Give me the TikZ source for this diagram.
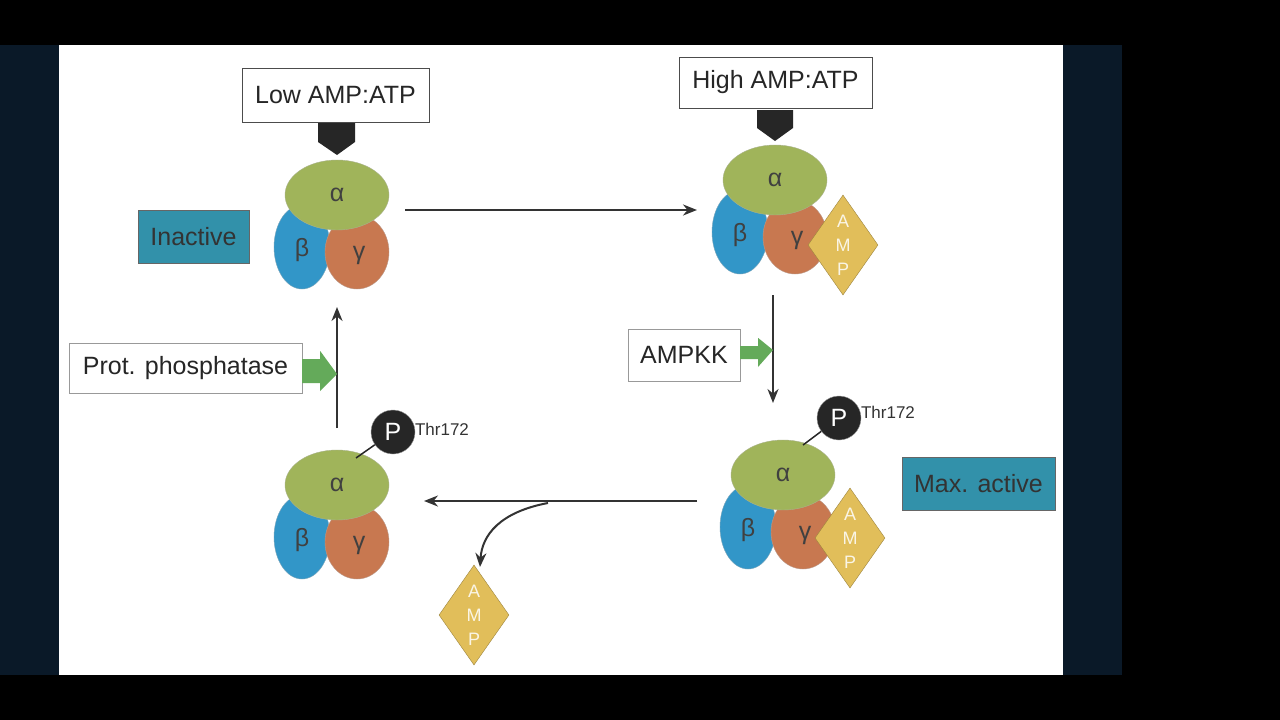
\documentclass[tikz,border=0pt]{standalone}
\usepackage{fontspec}
\setmainfont{Liberation Sans}
\usetikzlibrary{arrows.meta,shapes.geometric}
\definecolor{alph}{RGB}{160,180,90}
\definecolor{bet}{RGB}{50,150,200}
\definecolor{gam}{RGB}{200,120,80}
\definecolor{amp}{RGB}{225,190,90}
\definecolor{teal1}{RGB}{50,145,170}
\definecolor{grn}{RGB}{100,170,90}
\definecolor{navy}{RGB}{10,25,40}
\tikzset{
 lbl/.style={draw=black!70,fill=white,font=\fontsize{25}{28}\selectfont,inner sep=0pt,text=black!85},
 tbox/.style={draw=black!60,fill=teal1,font=\fontsize{25}{28}\selectfont,text=black!80,inner sep=0pt},
 conn/.style={-{Stealth[length=14pt,width=11pt]},line width=2pt,black!80},
 gk/.style={font=\fontsize{25}{28}\selectfont,text=black!75},
 ampd/.style={diamond,draw=amp!70!black,fill=amp,minimum width=70pt,minimum height=100pt,inner sep=0pt,aspect=0.7},
 pc/.style={circle,fill=black!85,draw=black!40,minimum size=44pt,inner sep=0pt,text=white,font=\fontsize{25}{28}\selectfont},
}
\newcommand{\cplx}[4]{%
 \fill[bet,draw=bet!70!black!60] (#2-35,#3+52) ellipse [x radius=28,y radius=42];
 \fill[gam,draw=gam!70!black!60] (#2+20,#3+57) ellipse [x radius=32,y radius=37];
 \node[ellipse,fill=alph,draw=alph!70!black!60,minimum width=104pt,minimum height=70pt,gk] (#1a) at (#2,#3) {α};
 \node[gk] (#1b) at (#2-35,#3+55) {β};
 \node[gk] (#1g) at (#2+22,#3+60) {γ};
}
\newcommand{\ampdiamond}[3]{%
 \node[ampd] (#1) at (#2,#3) {};
 \node[text=white!85!amp,font=\fontsize{18}{20}\selectfont,align=center] at (#2,#3) {A\\[4pt]M\\[4pt]P};
}
\begin{document}
\begin{tikzpicture}[x=1pt,y=-1pt]
\fill[black] (0,0) rectangle (1280,720);
\fill[navy] (0,45) rectangle (1122,675);
\fill[white] (59,45) rectangle (1063,675);
\useasboundingbox (0,0) rectangle (1280,720);
\fill[black!85] (318,123) -- (355,123) -- (355,142) -- (337,155) -- (318,142) -- cycle;
\cplx{tl}{337}{195}{}
\fill[black!85] (757,110) -- (793,110) -- (793,128) -- (775,141) -- (757,128) -- cycle;
\cplx{tr}{775}{180}{}
\ampdiamond{trA}{843}{245}
\cplx{br}{783}{475}{}
\ampdiamond{brA}{850}{538}
\node[pc] (brP) at (839,418) {P};
\draw[line width=1.5pt,black!85] (803,445) -- (brP);
\node[font=\fontsize{17}{19}\selectfont,text=black!80] (brT) at (888,412) {Thr172};
\cplx{bl}{337}{485}{}
\node[pc] (blP) at (393,432) {P};
\draw[line width=1.5pt,black!85] (356,458) -- (blP);
\node[font=\fontsize{17}{19}\selectfont,text=black!80] (blT) at (442,429) {Thr172};
\ampdiamond{fA}{474}{615}
\node[lbl,minimum width=187pt,minimum height=54pt] (low) at (335.5,95) {Low AMP:ATP};
\node[lbl,minimum width=193pt,minimum height=51pt] (high) at (775.5,82.5) {High AMP:ATP};
\node[tbox,minimum width=111pt,minimum height=53pt] (inact) at (193.5,236.5) {Inactive};
\node[tbox,minimum width=153pt,minimum height=53pt] (maxa) at (978.5,483.5) {Max. active};
\node[lbl,draw=black!40,minimum width=233pt,minimum height=50pt] (prot) at (185.5,368) {Prot. phosphatase};
\node[lbl,draw=black!40,minimum width=112pt,minimum height=52pt] (ampkk) at (684,355) {AMPKK};
\coordinate (c1) at (405,210); \coordinate (c2) at (697,210);
\draw[conn] (c1) -- (c2);
\coordinate (c3) at (773,295); \coordinate (c4) at (773,403);
\draw[conn] (c3) -- (c4);
\coordinate (c5) at (697,501); \coordinate (c6) at (424,501);
\draw[conn] (c5) -- (c6);
\coordinate (c7) at (548,503); \coordinate (c8) at (480,567);
\draw[conn] (c7) .. controls (500,512) and (482,535) .. (c8);
\coordinate (c9) at (337,428); \coordinate (c10) at (337,307);
\draw[conn] (c9) -- (c10);
\fill[grn] (prot.east) ++(0,-9) -- ++(18,0) -- ++(0,-8) -- (337,374) -- (320,391) -- ++(0,-8) -- ++(-18,0) -- cycle;
\fill[grn] (ampkk.east) ++(0,-9) -- ++(18,0) -- ++(0,-8) -- (773,350) -- (758,367) -- ++(0,-8) -- ++(-18,0) -- cycle;
\end{tikzpicture}
\end{document}
